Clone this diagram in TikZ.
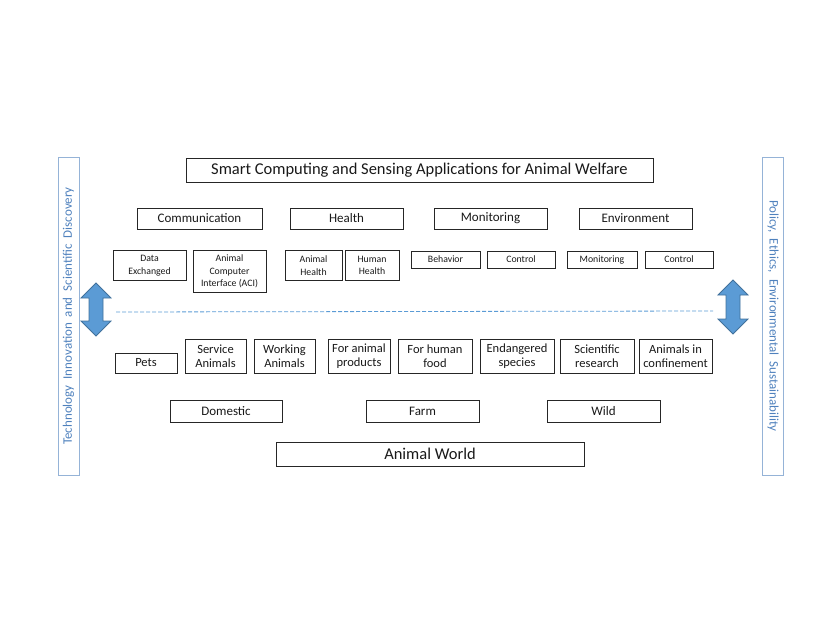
\documentclass[tikz,border=0pt]{standalone}
\usepackage{fontspec}
\setmainfont{Carlito}
\usetikzlibrary{positioning}
\definecolor{boxline}{HTML}{262626}
\definecolor{sideline}{HTML}{95B3D7}
\definecolor{sidetext}{HTML}{4F81BD}
\definecolor{arrowfill}{HTML}{5B9BD5}
\definecolor{arrowline}{HTML}{41719C}

\begin{document}
\begin{tikzpicture}[
  x=1pt, y=-1pt,
  box/.style={draw=boxline, line width=0.9pt, inner sep=1pt, align=center, text=black!90},
  titlebox/.style={box, font=\fontsize{16.5}{19}\selectfont, minimum height=24pt},
  catbox/.style={box, font=\fontsize{13}{15}\selectfont, minimum width=113pt, minimum height=21pt},
  subbox/.style={box, font=\fontsize{9.8}{12.5}\selectfont, minimum height=30pt},
  flatbox/.style={box, font=\fontsize{9.8}{12.5}\selectfont, minimum height=17pt},
  kindbox/.style={box, font=\fontsize{12.5}{14}\selectfont, minimum height=34pt},
  groupbox/.style={box, font=\fontsize{13}{15}\selectfont, minimum width=113pt, minimum height=22pt},
  sidebox/.style={draw=sideline, line width=0.9pt, text=sidetext, font=\fontsize{13}{15}\selectfont,
    minimum width=318pt, minimum height=21pt, inner sep=0pt},
  dblarrow/.style={draw=arrowline, line width=0.8pt, fill=arrowfill},
  sepline/.style={draw=arrowfill, line width=0.8pt, dash pattern=on 4pt off 2pt}
]
\useasboundingbox (0,0) rectangle (830,642);

% top title
\node[titlebox, minimum width=467pt] (apps) at (419.5,170) {Smart Computing and Sensing Applications for Animal Welfare};

% application areas
\node[catbox, minimum width=125pt] (comm) at (199.5,218.5) {Communication};
\node[catbox] (health) at (346.5,218.5) {Health};
\node[catbox] (monit) at (490.5,218.5) {Monitoring};
\node[catbox] (envir) at (635.5,218.5) {Environment};

\node[subbox, minimum width=73pt] (data) at (149.5,265.5) {Data\\Exchanged};
\node[subbox, minimum width=73pt, minimum height=42pt] (aci) at (229.5,271.5) {Animal\\Computer\\Interface (ACI)};
\node[subbox, minimum width=57pt] (ahealth) at (313.5,265.5) {Animal\\Health};
\node[subbox, minimum width=54pt] (hhealth) at (372,265.5) {Human\\Health};
\node[flatbox, minimum width=69pt] (behav) at (445.5,259.5) {Behavior};
\node[flatbox, minimum width=68pt] (mcontrol) at (521,259.5) {Control};
\node[flatbox, minimum width=70pt] (emonit) at (602,259.5) {Monitoring};
\node[flatbox, minimum width=68pt] (econtrol) at (679,259.5) {Control};

% side bars
\node[sidebox, rotate=90] (tech) at (68.5,316) {Technology\ \ Innovation\ \ and\ \ Scientific\ \ Discovery};
\node[sidebox, rotate=-90] (policy) at (773,316) {Policy,\ \ Ethics,\ \ Environmental\ \ Sustainability};

\draw[dblarrow] (96,283) -- (111,298) -- (103,298) -- (103,321) -- (111,321) -- (96,336)
  -- (81,321) -- (89,321) -- (89,298) -- (81,298) -- cycle;
\draw[dblarrow] (733,280) -- (748,295) -- (740,295) -- (740,319) -- (748,319) -- (733,334)
  -- (718,319) -- (726,319) -- (726,295) -- (718,295) -- cycle;

% separator
\coordinate (sepL) at (116,312);
\coordinate (sepR) at (713,311);
\draw[sepline] (sepL) -- (sepR);

% animal kinds
\node[kindbox, minimum width=62pt, minimum height=20pt] (pets) at (146,363) {Pets};
\node[kindbox, minimum width=61pt] (service) at (215.5,356) {Service\\Animals};
\node[kindbox, minimum width=61pt] (working) at (284.5,356) {Working\\Animals};
\node[kindbox, minimum width=62pt] (products) at (359,356) {For animal\\products};
\node[kindbox, minimum width=74pt] (food) at (435,356) {For human\\food};
\node[kindbox, minimum width=74pt] (endang) at (517,356) {Endangered\\species};
\node[kindbox, minimum width=74pt] (science) at (597,356) {Scientific\\research};
\node[kindbox, minimum width=73pt] (confine) at (675.5,356) {Animals in\\confinement};

\node[groupbox, minimum width=112pt] (domestic) at (226,411) {Domestic};
\node[groupbox] (farm) at (422.5,411) {Farm};
\node[groupbox] (wild) at (603.5,411) {Wild};

\node[titlebox, minimum width=308pt] (world) at (430,454) {Animal World};

\end{tikzpicture}
\end{document}
